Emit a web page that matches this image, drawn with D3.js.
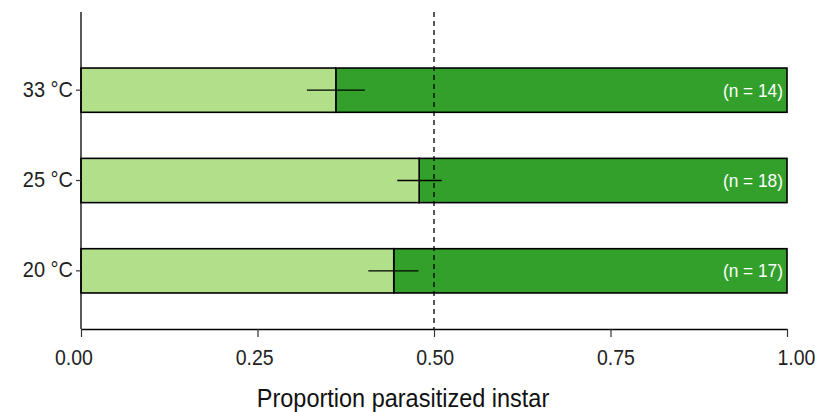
<!DOCTYPE html>
<html>
<head>
<meta charset="utf-8">
<script src="https://cdn.jsdelivr.net/npm/d3@7"></script>
<style>
    body { margin: 0; background: #fff; }
    text { font-family: "Liberation Sans", Arial, sans-serif; }
</style>
</head>
<body>
<div id="chart"></div>
<script>
// data
var temps = ["33 °C", "25 °C", "20 °C"];
var proportions = [0.361, 0.479, 0.443];
var errLow = [0.320, 0.448, 0.407];
var errHigh = [0.402, 0.511, 0.478];
var counts = [14, 18, 17];
var xTicks = [0, 0.25, 0.5, 0.75, 1];

var width = 817, height = 412;
var margin = {top: 12, right: 30, bottom: 83, left: 81};
var tall = 1.1; // glyphs in the picture are a bit taller than wide

var svg = d3.select("#chart").append("svg")
    .attr("width", width)
    .attr("height", height);

var x = d3.scaleLinear().domain([0, 1]).range([margin.left, 787]);
// tick labels in the picture sit a little wider apart than the ticks
var xLabel = d3.scaleLinear().domain([0, 1]).range([73.5, 796]);
var y = d3.scaleBand().domain(temps)
    .range([45, 316])
    .paddingInner(0.51)
    .paddingOuter(0.255);

var axisY = height - margin.bottom; // 329

function place(dx, dy) {
    return "translate(" + dx + "," + dy + ") scale(1," + tall + ")";
}

var rows = svg.append("g").classed("rows", true)
    .selectAll("g")
    .data(temps)
    .enter()
    .append("g");

// dark part (the rest up to 1)
rows.append("rect")
    .attr("x", function(d, i) { return x(proportions[i]); })
    .attr("y", function(d) { return y(d); })
    .attr("width", function(d, i) { return x(1) - x(proportions[i]); })
    .attr("height", y.bandwidth())
    .style("fill", "#33a02c")
    .style("stroke", "#000")
    .style("stroke-width", 1.6);

// light part
rows.append("rect")
    .attr("x", x(0))
    .attr("y", function(d) { return y(d); })
    .attr("width", function(d, i) { return x(proportions[i]) - x(0); })
    .attr("height", y.bandwidth())
    .style("fill", "#b2df8a")
    .style("stroke", "#000")
    .style("stroke-width", 1.6);

// error bars
rows.append("line")
    .attr("x1", function(d, i) { return x(errLow[i]); })
    .attr("x2", function(d, i) { return x(errHigh[i]); })
    .attr("y1", function(d) { return y(d) + y.bandwidth() / 2; })
    .attr("y2", function(d) { return y(d) + y.bandwidth() / 2; })
    .style("stroke", "#000")
    .style("stroke-width", 1.4);

rows.append("text")
    .attr("transform", function(d) { return place(x(1) - 4, y(d) + y.bandwidth() / 2 + 6.6); })
    .attr("text-anchor", "end")
    .style("fill", "#fff")
    .style("font-size", "17.3px")
    .text(function(d, i) { return "(n = " + counts[i] + ")"; });

// reference line at 0.5
svg.append("line")
    .attr("x1", x(0.5)).attr("x2", x(0.5))
    .attr("y1", margin.top).attr("y2", axisY)
    .style("stroke", "#000")
    .style("stroke-width", 1.3)
    .style("stroke-dasharray", "5,4");

// axes
var xAxis = svg.append("g")
    .attr("transform", "translate(0," + axisY + ")")
    .call(d3.axisBottom(x).tickValues(xTicks).tickFormat(d3.format(".2f")).tickSize(8).tickSizeOuter(0));
xAxis.select(".domain").style("stroke", "#000").style("stroke-width", 1.3);
xAxis.selectAll(".tick line").style("stroke", "#333").style("stroke-width", 1.2);
xAxis.selectAll(".tick text")
    .attr("x", null).attr("y", null).attr("dy", null)
    .attr("transform", function(d) { return place(xLabel(d) - x(d), 36); })
    .style("font-size", "19.5px")
    .style("fill", "#222")
    .style("font-family", "Liberation Sans, Arial, sans-serif");

var yAxis = svg.append("g")
    .attr("transform", "translate(" + x(0) + ",0)")
    .call(d3.axisLeft(y).tickSize(5).tickSizeOuter(0));
yAxis.select(".domain").attr("d", "M0," + margin.top + "V" + axisY)
    .style("stroke", "#000").style("stroke-width", 1.3);
yAxis.selectAll(".tick line").style("stroke", "#333").style("stroke-width", 1.2);
yAxis.selectAll(".tick text")
    .attr("x", null).attr("dy", null)
    .attr("transform", place(-8, 6.4))
    .style("font-size", "20px")
    .style("fill", "#222")
    .style("font-family", "Liberation Sans, Arial, sans-serif");

svg.append("text")
    .attr("transform", place(403, 407))
    .attr("text-anchor", "middle")
    .style("font-size", "23.5px")
    .style("fill", "#111")
    .text("Proportion parasitized instar");
</script>
</body>
</html>
